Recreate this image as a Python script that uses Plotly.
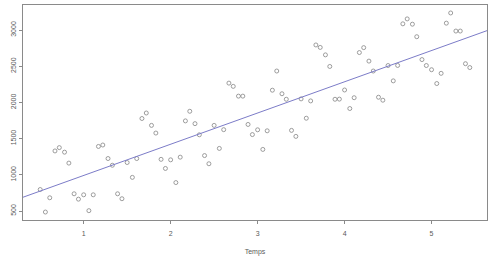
import numpy as np
import plotly.graph_objects as go

temps = [0.50, 0.56, 0.61, 0.67, 0.72, 0.78, 0.83, 0.89, 0.94, 1.00,
         1.06, 1.11, 1.17, 1.22, 1.28, 1.33, 1.39, 1.44, 1.50, 1.56,
         1.61, 1.67, 1.72, 1.78, 1.83, 1.89, 1.94, 2.00, 2.06, 2.11,
         2.17, 2.22, 2.28, 2.33, 2.39, 2.44, 2.50, 2.56, 2.61, 2.67,
         2.72, 2.78, 2.83, 2.89, 2.94, 3.00, 3.06, 3.11, 3.17, 3.22,
         3.28, 3.33, 3.39, 3.44, 3.50, 3.56, 3.61, 3.67, 3.72, 3.78,
         3.83, 3.89, 3.94, 4.00, 4.06, 4.11, 4.17, 4.22, 4.28, 4.33,
         4.39, 4.44, 4.50, 4.56, 4.61, 4.67, 4.72, 4.78, 4.83, 4.89,
         4.94, 5.00, 5.06, 5.11, 5.17, 5.22, 5.28, 5.33, 5.39, 5.44]
valeurs = [797, 486, 683, 1330, 1376, 1313, 1162, 738, 664, 724,
           505, 724, 1392, 1412, 1225, 1132, 738, 670, 1170, 965,
           1225, 1778, 1854, 1683, 1577, 1214, 1088, 1207, 893, 1244,
           1745, 1878, 1707, 1553, 1266, 1153, 1683, 1365, 1624, 2267,
           2222, 2087, 2087, 1696, 1556, 1622, 1351, 1608, 2169, 2434,
           2120, 2044, 1614, 1531, 2049, 1782, 2021, 2794, 2760, 2657,
           2497, 2044, 2046, 2172, 1916, 2065, 2689, 2757, 2571, 2434,
           2072, 2031, 2510, 2298, 2511, 3086, 3154, 3081, 2908, 2592,
           2510, 2452, 2261, 2402, 3095, 3236, 2986, 2986, 2535, 2482]
x_ticks = [1, 2, 3, 4, 5]
y_ticks = [500, 1000, 1500, 2000, 2500, 3000]

x = np.array(temps)
y = np.array(valeurs)

def r_range(v):
    lo, hi = float(np.min(v)), float(np.max(v))
    d = (hi - lo) * 0.04
    return [lo - d, hi + d]

xr = r_range(x)
yr = r_range(y)

slope, intercept = np.polyfit(x, y, 1)
line_x = np.array(xr)
line_y = intercept + slope * line_x

fig = go.Figure()
fig.add_trace(go.Scatter(
    x=temps, y=valeurs, mode="markers",
    marker=dict(symbol="circle-open", size=4, color="#858585", line=dict(width=0.8)),
    showlegend=False, hoverinfo="skip"))
fig.add_trace(go.Scatter(
    x=line_x, y=line_y, mode="lines",
    line=dict(color="#7c7cc8", width=1),
    showlegend=False, hoverinfo="skip"))

font = dict(family="Liberation Sans, Arial, sans-serif", size=7, color="#5a5a5a")
axis_common = dict(
    showgrid=False, zeroline=False,
    showline=True, linecolor="#8a8a8a", linewidth=1, mirror=True,
    ticks="outside", ticklen=3, tickwidth=1, tickcolor="#8a8a8a",
    tickfont=font,
)

fig.update_layout(
    width=492, height=258,
    margin=dict(l=23, r=4, t=5, b=35),
    paper_bgcolor="white", plot_bgcolor="white",
    xaxis=dict(range=xr, tickvals=x_ticks, ticktext=[str(t) for t in x_ticks],
               ticklabelstandoff=4,
               title=dict(text="Temps", standoff=12, font=font),
               **axis_common),
    yaxis=dict(range=yr, tickvals=y_ticks, ticktext=[str(t) for t in y_ticks],
               tickangle=-90, **axis_common),
)

fig.write_html("out.html")
